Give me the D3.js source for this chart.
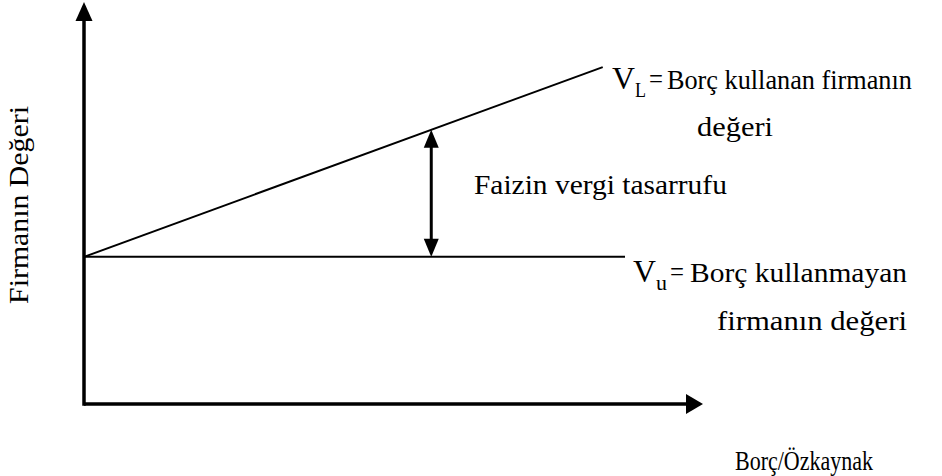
<!DOCTYPE html>
<html>
<head>
<meta charset="utf-8">
<script src="https://cdn.jsdelivr.net/npm/d3@7"></script>
<style>
  html, body { margin: 0; padding: 0; background: #fff; }
  svg { display: block; }
</style>
</head>
<body>
<svg id="chart" width="942" height="476"></svg>
<script>
// ---- data (conceptual units, 0..100 on both axes) ----
const leveredX = [0, 83.8];          // Borç/Özkaynak
const leveredValue = [36.6, 83.8];   // V_L
const unleveredX = [0, 87.4];
const unleveredValue = [36.6, 36.6]; // V_u
const taxShieldX = [56.1];           // position of the double arrow
const axisLabels = ["Borç/Özkaynak", "Firmanın Değeri"];
const annotation = ["Faizin vergi tasarrufu"];

const FONT = "'Liberation Serif', 'Times New Roman', serif";
const BASE = 22; // rendering size; text is scaled up to the wanted size
const svg = d3.select("#chart");
const x = d3.scaleLinear().domain([0, 100]).range([84, 703]);
const y = d3.scaleLinear().domain([0, 100]).range([404, 2]);

// axes (lines without ticks)
svg.append("line").attr("x1", x(0)).attr("x2", x(100) - 17)
  .attr("y1", y(0)).attr("y2", y(0)).attr("stroke", "#000").attr("stroke-width", 3.5);
svg.append("line").attr("x1", x(0)).attr("x2", x(0))
  .attr("y1", y(0) + 1.75).attr("y2", y(100) + 18).attr("stroke", "#000").attr("stroke-width", 3.5);

// arrowheads on axes
svg.append("path").attr("fill", "#000")
  .attr("d", `M${x(100)},${y(0)} L${x(100) - 17},${y(0) - 10} L${x(100) - 17},${y(0) + 10} Z`);
svg.append("path").attr("fill", "#000")
  .attr("d", `M${x(0)},${y(100)} L${x(0) - 8.5},${y(100) + 19} L${x(0) + 8.5},${y(100) + 19} Z`);

// lines
const line = d3.line().x(d => x(d[0])).y(d => y(d[1]));
svg.append("path").datum(d3.zip(leveredX, leveredValue)).attr("d", line)
  .attr("fill", "none").attr("stroke", "#000").attr("stroke-width", 2);
svg.append("path").datum(d3.zip(unleveredX, unleveredValue)).attr("d", line)
  .attr("fill", "none").attr("stroke", "#000").attr("stroke-width", 2);

// double arrow between lines
const slope = (leveredValue[1] - leveredValue[0]) / (leveredX[1] - leveredX[0]);
taxShieldX.forEach(tx => {
  const topV = leveredValue[0] + slope * (tx - leveredX[0]);
  const botV = unleveredValue[0];
  const px = x(tx), pt = y(topV), pb = y(botV);
  svg.append("line").attr("x1", px).attr("x2", px).attr("y1", pt + 16).attr("y2", pb - 16)
    .attr("stroke", "#000").attr("stroke-width", 3);
  svg.append("path").attr("fill", "#000")
    .attr("d", `M${px},${pt} L${px - 7.5},${pt + 18} L${px + 7.5},${pt + 18} Z`);
  svg.append("path").attr("fill", "#000")
    .attr("d", `M${px},${pb} L${px - 7.5},${pb - 18} L${px + 7.5},${pb - 18} Z`);
});

// text rendered at BASE px, then scaled to the wanted height and width
function txt(str, tx, ty, size, len, rot) {
  const g = svg.append("g");
  const t = g.append("text").attr("x", 0).attr("y", 0)
    .style("font-family", FONT).style("font-size", BASE + "px").attr("fill", "#000").text(str);
  const w = t.node().getComputedTextLength();
  const sy = size / BASE;
  const sx = len ? len / w : sy;
  if (rot) {
    t.attr("text-anchor", "middle");
    g.attr("transform", `translate(${tx},${ty}) rotate(-90) scale(${sx},${sy})`);
  } else {
    g.attr("transform", `translate(${tx},${ty}) scale(${sx},${sy})`);
  }
  return t;
}

// V_L label
txt("V", 612, 89, 32, 23);
txt("L", 635, 97, 20, 11);
txt("=", 649, 88, 28, 14);
txt("Borç kullanan firmanın", 667, 89, 28, 245);
txt("değeri", 697, 136, 28, 76);

// V_u label
txt("V", 633, 282, 32, 23);
txt("u", 656, 290, 20, 11);
txt("=", 670, 281, 28, 14);
txt("Borç kullanmayan", 690, 282, 28, 217);
txt("firmanın değeri", 717, 330, 28, 190);

// annotation
txt(annotation[0], 474, 194, 28, 253);

// axis labels
txt(axisLabels[0], 735, 470, 27, 138);
txt(axisLabels[1], 28, 205, 28, 198, true);
</script>
</body>
</html>
